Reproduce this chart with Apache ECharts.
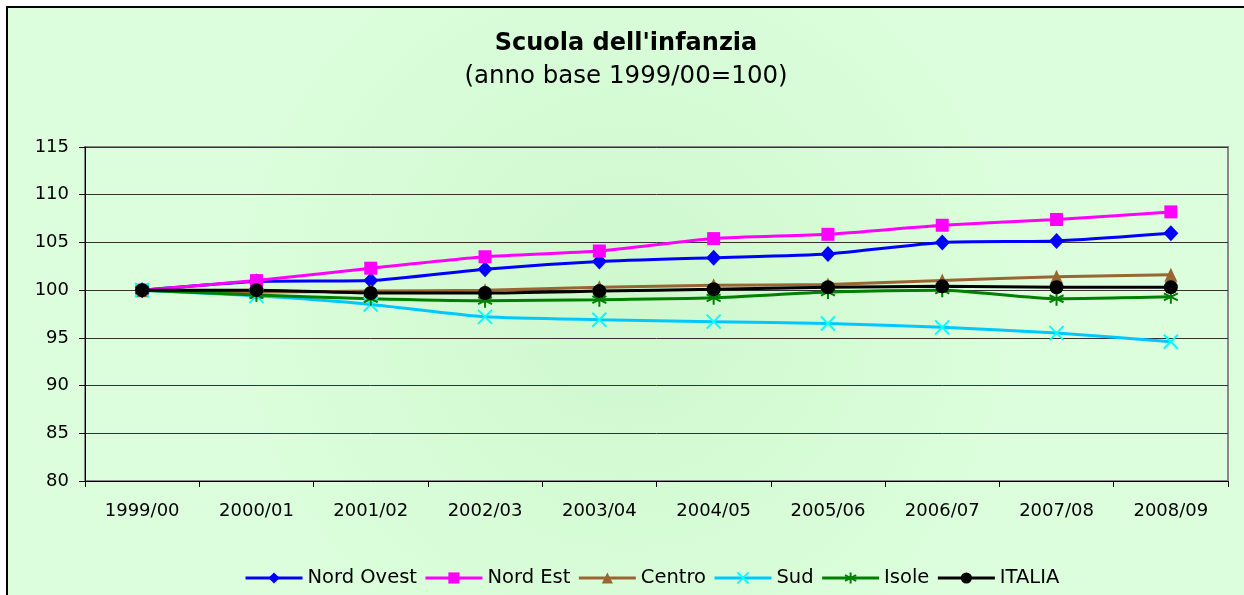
<!DOCTYPE html>
<html lang="it" style="height: 100%">
<head>
  <meta charset="utf-8">
</head>
<body style="height: 100%; margin: 0; background: #fff">
  <div id="container" style="position: absolute; left: 6px; top: 6px; width: 1238px; height: 589px; border-top: 2px solid #000; border-left: 2px solid #000; box-sizing: border-box"></div>

  <script type="text/javascript" src="https://fastly.jsdelivr.net/npm/echarts@6/dist/echarts.min.js"></script>
  <script type="text/javascript">
    // anni scolastici
    const anni = ['1999/00', '2000/01', '2001/02', '2002/03', '2003/04', '2004/05', '2005/06', '2006/07', '2007/08', '2008/09'];

    // indici (anno base 1999/00 = 100)
    const nordOvest = [100, 100.9, 101.0, 102.2, 103.0, 103.4, 103.8, 105.0, 105.15, 105.95];
    const nordEst   = [100, 101.0, 102.3, 103.5, 104.1, 105.4, 105.85, 106.8, 107.4, 108.2];
    const centro    = [100, 99.8, 99.9, 100.0, 100.3, 100.5, 100.6, 101.0, 101.4, 101.6];
    const sud       = [100, 99.4, 98.5, 97.2, 96.9, 96.7, 96.5, 96.1, 95.5, 94.6];
    const isole     = [100, 99.5, 99.1, 98.9, 99.0, 99.2, 99.8, 100.0, 99.1, 99.3];
    const italia    = [100, 100.0, 99.7, 99.7, 99.9, 100.1, 100.3, 100.4, 100.3, 100.3];

    const yTicks = { min: 80, max: 115, interval: 5 };

    var dom = document.getElementById('container');
    var myChart = echarts.init(dom, null, { renderer: 'canvas' });
    var option;

    const crossPath = 'path://M0 0 L10 10 M10 0 L0 10';
    const starPath = 'path://M5 0 L5 10 M0.7 2.5 L9.3 7.5 M9.3 2.5 L0.7 7.5';

    function serie(name, data, lineColor, symbol, size, symColor, stroked) {
      return {
        type: 'line',
        name: name,
        data: data,
        smooth: 0.2,
        symbol: symbol,
        symbolSize: size,
        showAllSymbol: true,
        lineStyle: { color: lineColor, width: 3 },
        itemStyle: stroked
          ? { color: 'rgba(0,0,0,0)', borderColor: symColor, borderWidth: 2 }
          : { color: symColor, borderWidth: 0 },
        emphasis: { disabled: true }
      };
    }

    option = {
      animation: false,
      backgroundColor: {
        type: 'radial', x: 0.5, y: 0.5, r: 0.7,
        colorStops: [
          { offset: 0, color: '#cef8ce' },
          { offset: 1, color: '#dcfedc' }
        ]
      },
      textStyle: { fontFamily: 'DejaVu Sans, sans-serif' },
      title: {
        text: "Scuola dell'infanzia",
        subtext: '(anno base 1999/00=100)',
        left: 'center',
        top: 22,
        padding: 0,
        itemGap: 6,
        textStyle: { fontSize: 24, fontWeight: 'bold', color: '#000', lineHeight: 27 },
        subtextStyle: { fontSize: 24.5, color: '#000', lineHeight: 27 }
      },
      legend: {
        top: 555,
        left: 231,
        itemWidth: 57,
        itemHeight: 14,
        itemGap: 7,
        lineStyle: { width: 3 },
        textStyle: { fontSize: 19.5, color: '#000' },
        data: ['Nord Ovest', 'Nord Est', 'Centro', 'Sud', 'Isole', 'ITALIA']
      },
      grid: {
        left: 77, right: 16, top: 139, bottom: 114,
        show: true, borderColor: '#888', borderWidth: 2
      },
      xAxis: {
        type: 'category',
        data: anni,
        boundaryGap: true,
        axisLine: { lineStyle: { color: '#000', width: 1 } },
        axisTick: { show: true, length: 6, lineStyle: { color: '#000' } },
        axisLabel: { fontSize: 18, color: '#000', margin: 21 },
        splitLine: { show: false }
      },
      yAxis: {
        type: 'value',
        min: yTicks.min, max: yTicks.max, interval: yTicks.interval,
        axisLine: { show: true, lineStyle: { color: '#000', width: 1 } },
        axisTick: { show: true, length: 6, lineStyle: { color: '#000' } },
        axisLabel: { fontSize: 18, color: '#000', margin: 16 },
        splitLine: { lineStyle: { color: '#333', width: 1 } }
      },
      series: [
        serie('Nord Ovest', nordOvest, '#0000ff', 'diamond', [15, 16], '#0000ff'),
        serie('Nord Est', nordEst, '#ff00ff', 'rect', 13, '#ff00ff'),
        serie('Centro', centro, '#996633', 'triangle', [13, 14], '#996633'),
        serie('Sud', sud, '#00c8ff', crossPath, 14, '#00ffff', true),
        serie('Isole', isole, '#008000', starPath, 14, '#008000', true),
        serie('ITALIA', italia, '#000000', 'circle', 14, '#000000')
      ]
    };

    if (option && typeof option === 'object') {
      myChart.setOption(option);
    }

    window.addEventListener('resize', myChart.resize);
  </script>
</body>
</html>
